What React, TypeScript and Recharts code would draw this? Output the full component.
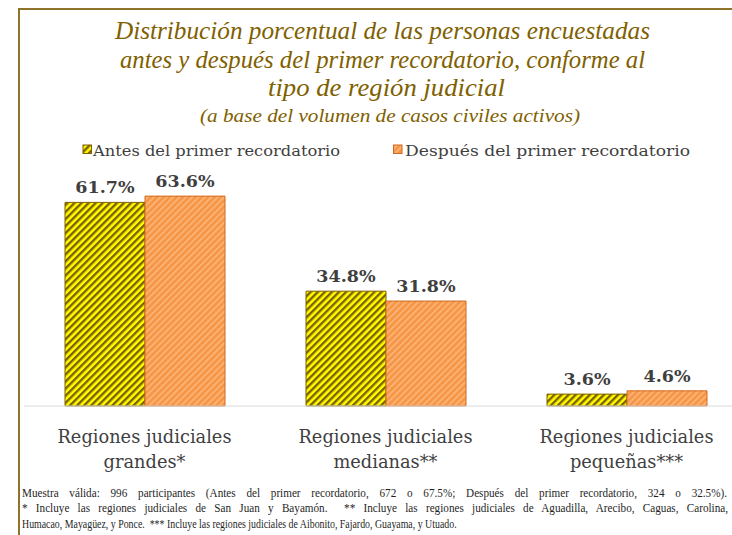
import React, { useLayoutEffect, useRef, useState } from 'react';
import { BarChart, Bar, XAxis, YAxis, LabelList } from 'recharts';

const categories = [
  'Regiones judiciales grandes*',
  'Regiones judiciales medianas**',
  'Regiones judiciales pequeñas***',
];
const antesValues = [61.7, 34.8, 3.6];
const despuesValues = [63.6, 31.8, 4.6];
const seriesNames = ['Antes del primer recordatorio', 'Después del primer recordatorio'];
const titleLines = [
  'Distribución porcentual de las personas encuestadas',
  'antes y después del primer recordatorio, conforme al',
  'tipo de región judicial',
];
const subtitle = '(a base del volumen de casos civiles activos)';
const footerLines = [
  'Muestra válida: 996 participantes (Antes del primer recordatorio, 672 o 67.5%; Después del primer recordatorio, 324 o 32.5%).',
  '* Incluye las regiones judiciales de San Juan y Bayamón.  ** Incluye las regiones judiciales de Aguadilla, Arecibo, Caguas, Carolina,',
  'Humacao, Mayagüez, y Ponce.  *** Incluye las regiones judiciales de Aibonito, Fajardo, Guayama, y Utuado.',
];

const data = categories.map((c, i) => ({ name: c, antes: antesValues[i], despues: despuesValues[i] }));

const TEXT = '#3F3F3F';
const TITLE = '#7F6000';

const CategoryTick = (props: any) => {
  const { x, y, payload } = props;
  const text = String(payload.value);
  const key = 'judiciales';
  const idx = text.indexOf(key) + key.length;
  const l1 = text.slice(0, idx);
  const l2 = text.slice(idx + 1);
  return (
    <g>
      <text x={x} y={y + 37} textAnchor="middle" fontFamily="DejaVu Serif" fontSize={17.8} fill={TEXT}>
        {l1}
      </text>
      <text x={x} y={y + 62} textAnchor="middle" fontFamily="DejaVu Serif" fontSize={17.8} fill={TEXT}>
        {l2}
      </text>
    </g>
  );
};

const FooterLine = ({ x, y, text, width, scale }: { x: number; y: number; text: string; width?: number; scale: number }) => {
  const ref = useRef<SVGTextElement>(null);
  const [ws, setWs] = useState(0);
  useLayoutEffect(() => {
    if (!ref.current || !width) return;
    const natural = ref.current.getComputedTextLength();
    const spaces = (text.match(/ /g) || []).length;
    if (spaces > 0) setWs(Math.max(0, (width / scale - natural) / spaces));
  }, [text, width, scale]);
  return (
    <text
      ref={ref}
      xmlSpace="preserve"
      transform={`translate(${x},${y}) scale(${scale},1)`}
      style={{ whiteSpace: 'pre', wordSpacing: ws }}
    >
      {text}
    </text>
  );
};

const Patterns = ({ prefix }: { prefix: string }) => (
  <defs>
    <pattern id={`${prefix}Yellow`} patternUnits="userSpaceOnUse" width="5" height="5" patternTransform="rotate(45)">
      <rect width="5" height="5" fill="#FFFF00" />
      <rect width="2.4" height="5" fill="#7F6000" />
    </pattern>
    <pattern id={`${prefix}Orange`} patternUnits="userSpaceOnUse" width="4.5" height="4.5" patternTransform="rotate(45)">
      <rect width="4.5" height="4.5" fill="#F79646" />
      <rect width="1.6" height="4.5" fill="#FBB67A" />
    </pattern>
  </defs>
);

export default function App() {
  return (
    <div style={{ position: 'absolute', left: 0, top: 0, width: 732, height: 535, overflow: 'hidden', background: '#fff' }}>
      <div style={{ position: 'absolute', left: 0, top: 0 }}>
        <BarChart width={760} height={535} data={data} margin={{ top: 175, right: 13, bottom: 0, left: 24 }} barGap={0} barSize={80}>
          <Patterns prefix="c" />
          <XAxis
            dataKey="name"
            height={129}
            tickLine={false}
            tickSize={0}
            tickMargin={0}
            axisLine={{ stroke: '#D9D9D9' }}
            tick={<CategoryTick />}
            interval={0}
          />
          <YAxis hide domain={[0, 70]} />
          <Bar dataKey="antes" name={seriesNames[0]} fill="url(#cYellow)" stroke="#7F6000" strokeWidth={1} isAnimationActive={false}>
            <LabelList dataKey="antes" position="top" offset={9} formatter={(v: any) => `${v}%`} fill={TEXT} fontFamily="DejaVu Serif" fontWeight="bold" fontSize={17.5} />
          </Bar>
          <Bar dataKey="despues" name={seriesNames[1]} fill="url(#cOrange)" stroke="#D2691E" strokeWidth={1} isAnimationActive={false}>
            <LabelList dataKey="despues" position="top" offset={9} formatter={(v: any) => `${v}%`} fill={TEXT} fontFamily="DejaVu Serif" fontWeight="bold" fontSize={17.5} />
          </Bar>
        </BarChart>
      </div>
      <svg width={732} height={535} style={{ position: 'absolute', left: 0, top: 0, pointerEvents: 'none' }}>
        <Patterns prefix="l" />
        <path d="M19 535 L19 9 L732 9" fill="none" stroke="#8D7428" strokeWidth={2} />
        <g fontFamily="Liberation Serif" fontStyle="italic" fill={TITLE} textAnchor="middle">
          <text x={382.5} y={39} fontSize={25} textLength={535} lengthAdjust="spacingAndGlyphs">{titleLines[0]}</text>
          <text x={382.5} y={68} fontSize={25} textLength={525} lengthAdjust="spacingAndGlyphs">{titleLines[1]}</text>
          <text x={386.5} y={96} fontSize={25} textLength={237} lengthAdjust="spacingAndGlyphs">{titleLines[2]}</text>
          <text x={390} y={122} fontSize={19} textLength={380} lengthAdjust="spacingAndGlyphs">{subtitle}</text>
        </g>
        <g fontFamily="DejaVu Serif" fontSize={15.5} fill={TEXT}>
          <rect x={83} y={145} width={8.5} height={8.5} fill="url(#lYellow)" stroke="#7F6000" strokeWidth={1} />
          <text x={93} y={156} textLength={247} lengthAdjust="spacingAndGlyphs">{seriesNames[0]}</text>
          <rect x={393.5} y={145} width={8.5} height={8.5} fill="url(#lOrange)" stroke="#D2691E" strokeWidth={1} />
          <text x={405} y={156} textLength={285} lengthAdjust="spacingAndGlyphs">{seriesNames[1]}</text>
        </g>
        <g fontFamily="Liberation Serif" fontSize={13} fill="#1F1F1F">
          <FooterLine x={22} y={497} text={footerLines[0]} width={705} scale={0.86} />
          <FooterLine x={22} y={512} text={footerLines[1]} width={706} scale={0.86} />
          <FooterLine x={22} y={528} text={footerLines[2]} scale={0.76} />
        </g>
      </svg>
    </div>
  );
}
